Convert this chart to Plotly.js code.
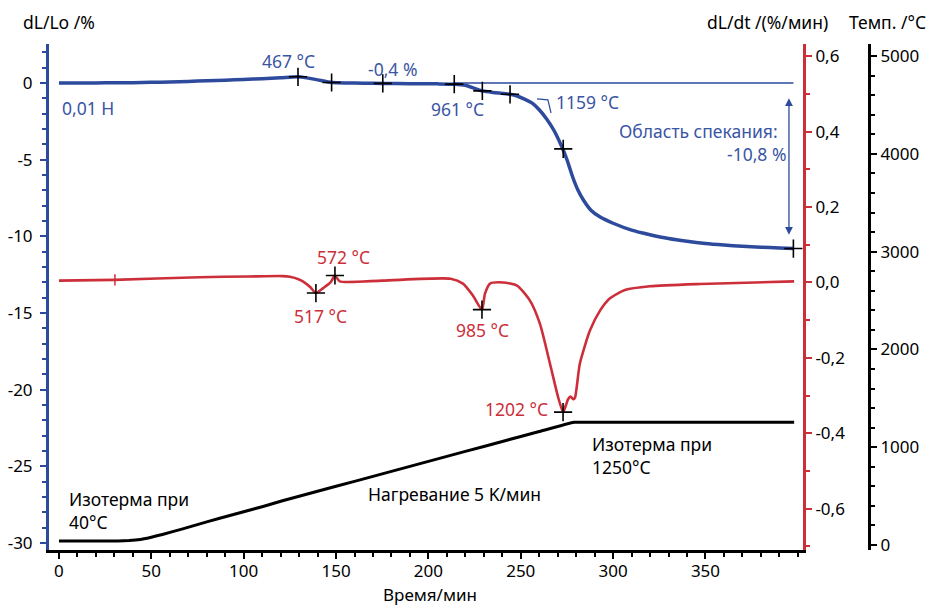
<!DOCTYPE html>
<html>
<head>
<meta charset="utf-8">
<script src="https://cdn.plot.ly/plotly-3.0.1.min.js"></script>
<style>html,body{margin:0;padding:0;background:#fff;}#chart{width:929px;height:607px;}</style>
</head>
<body>
<div id="chart"></div>
<script>
// ---- Data ----
// Time axis in minutes
const dlTime = [0,10,20,30,40,50,60,70,80,90,100,110,120,129.4,134,140,145,148,155,165,175,190,205,214,220,225,229.2,235,240,244.2,248,252,256,260,264,268,272,275,278,281,284,288,293,300,310,320,330,340,350,360,370,380,390,397.6];
const dlValue = [0,0,0,0.01,0.02,0.04,0.06,0.1,0.14,0.18,0.23,0.28,0.34,0.4,0.33,0.2,0.08,0.03,0.0,-0.02,-0.03,-0.05,-0.06,-0.08,-0.15,-0.35,-0.52,-0.62,-0.68,-0.74,-0.85,-1.05,-1.3,-1.75,-2.35,-3.1,-4.1,-5.0,-6.1,-7.0,-7.65,-8.3,-8.75,-9.15,-9.6,-9.9,-10.15,-10.33,-10.47,-10.57,-10.65,-10.71,-10.76,-10.8];
const dlMarkTime = [129.4,147.6,175.3,214,229.2,244.2,273,397.6];
const dlMarkValue = [0.4,0.03,-0.03,-0.08,-0.52,-0.74,-4.3,-10.8];
const baseTime = [214,397.6];
const baseValue = [0,0];
const tangentTime = [258.8,264.7,266.4];
const tangentValue = [-1.04,-1.1,-1.96];
const sinterArrowTime = [395.2,395.2];
const sinterArrowValue = [-0.9,-9.9];

const rateTime = [0,30,76,103,121,125,130,132,136,139.1,143,147,149.4,152,175,212,218.7,224,229,230.6,233.4,240.4,248,255,260.4,265.8,270.2,272.9,274.5,275.6,277,278.5,279.4,282,287.5,293,298.3,306.4,320,347,398];
const rateValue = [0.005,0.007,0.014,0.016,0.017,0.015,0.008,0.003,-0.012,-0.028,-0.015,0.0,0.0185,0.003,0.005,0.01,-0.003,-0.034,-0.072,-0.03,-0.003,0.0,-0.008,-0.048,-0.11,-0.215,-0.304,-0.344,-0.325,-0.31,-0.303,-0.31,-0.305,-0.215,-0.127,-0.074,-0.042,-0.02,-0.01,-0.004,0.003];
const rateMarkTime = [139.1,149.4,229,272.9];
const rateMarkValue = [-0.028,0.0185,-0.072,-0.344];
const rateTickTime = [30.3];
const rateTickValue = [0.007];

const tempTime = [0,25,32,38,44,50,56,67,80,94,110,121,141,160,180,200,220,240,260,278.8,290,320,350,398];
const tempValue = [40,40,41,45,56,80,108,165,236,310,392,452,555,651,753,855,957,1059,1160,1255,1255,1255,1255,1255];

// Tick labels
const xTickVals = [0,50,100,150,200,250,300,350];
const xTickText = ['0','50','100','150','200','250','300','350'];
const dlTickVals = [-30,-25,-20,-15,-10,-5,0];
const dlTickText = ['-30','-25','-20','-15','-10','-5','0'];
const rateTickVals = [-0.6,-0.4,-0.2,0,0.2,0.4,0.6];
const rateTickText = ['-0,6','-0,4','-0,2','0,0','0,2','0,4','0,6'];
const tempTickVals = [0,1000,2000,3000,4000,5000];
const tempTickText = ['0','1000','2000','3000','4000','5000'];

// ---- Styling ----
const BLUE = '#2d4a9c';
const BLUE_TXT = '#3a55a3';
const RED = '#cc2f3a';
const BLACK = '#000000';
const FONT = 'Noto Sans, Open Sans, sans-serif';
const FS = 17.5;
const TFS = 17;

const W = 929, H = 607, ML = 49, MR = 60, MT = 44, MB = 57;
const PW = W - ML - MR, PH = H - MT - MB;
function px(x){ return (x - ML) / PW; }
function py(y){ return (H - MB - y) / PH; }

const traces = [
  {x: baseTime, y: baseValue, yaxis:'y', mode:'lines', line:{color:BLUE, width:1.5}, hoverinfo:'skip'},
  {x: tangentTime, y: tangentValue, yaxis:'y', mode:'lines', line:{color:BLUE, width:1.2}, hoverinfo:'skip'},
  {x: tempTime, y: tempValue, yaxis:'y3', mode:'lines', line:{color:BLACK, width:3, shape:'spline', smoothing:0.3}},
  {x: rateTime, y: rateValue, yaxis:'y2', mode:'lines', line:{color:RED, width:2.6, shape:'spline', smoothing:0.6}},
  {x: rateTickTime, y: rateTickValue, yaxis:'y2', mode:'markers', marker:{symbol:'line-ns', size:8, line:{color:RED, width:1.5}}},
  {x: dlTime, y: dlValue, yaxis:'y', mode:'lines', line:{color:BLUE, width:3.5, shape:'spline', smoothing:0.6}},
  {x: dlMarkTime, y: dlMarkValue, yaxis:'y', mode:'markers', marker:{symbol:'cross-thin', size:13, line:{color:BLACK, width:1.6}}},
  {x: rateMarkTime, y: rateMarkValue, yaxis:'y2', mode:'markers', marker:{symbol:'cross-thin', size:13, line:{color:BLACK, width:1.6}}}
];

function txt(text, x, y, color, xanchor, align, yanchor, size){
  return {text:text, xref:'paper', yref:'paper', x:px(x), y:py(y), xanchor:xanchor||'center', yanchor:yanchor||'middle',
    align:align||'center', showarrow:false, borderpad:0, font:{family:FONT, size:size||FS, color:color}};
}

const annotations = [
  txt('dL/Lo /%', 22, 22, BLACK, 'left'),
  txt('dL/dt /(%/мин)', 706, 22, BLACK, 'left'),
  txt('Темп. /°C', 848, 22, BLACK, 'left'),
  txt('Время/мин', 430, 607, BLACK, 'center', 'center', 'bottom', 17),
  txt('467 °C', 288, 61, BLUE_TXT),
  txt('-0,4 %', 392, 69, BLUE_TXT),
  txt('0,01 H', 61, 108, BLUE_TXT, 'left'),
  txt('961 °C', 457, 109, BLUE_TXT),
  txt('1159 °C', 555, 102, BLUE_TXT, 'left'),
  txt('Область спекания:', 779, 131, BLUE_TXT, 'right'),
  txt('-10,8 %', 787, 154, BLUE_TXT, 'right'),
  txt('572 °C', 343, 257, RED),
  txt('517 °C', 320, 316, RED),
  txt('985 °C', 482, 330, RED),
  txt('1202 °C', 549, 409, RED, 'right'),
  txt('Изотерма при<br>40°C', 68, 510, BLACK, 'left', 'left'),
  txt('Нагревание 5 K/мин', 454, 494, BLACK),
  txt('Изотерма при<br>1250°C', 591, 455, BLACK, 'left', 'left'),
  {x: sinterArrowTime[1], y: sinterArrowValue[1], ax: sinterArrowTime[0], ay: sinterArrowValue[0],
   xref:'x', yref:'y', axref:'x', ayref:'y', text:'', showarrow:true, arrowhead:2, arrowside:'end+start',
   arrowsize:1.2, arrowwidth:1.3, arrowcolor:BLUE}
];

const tickFont = {family:FONT, size:TFS, color:BLACK};

const layout = {
  width:W, height:H,
  margin:{l:ML, r:MR, t:MT, b:MB, pad:0},
  paper_bgcolor:'#ffffff', plot_bgcolor:'rgba(0,0,0,0)',
  showlegend:false,
  font:{family:FONT, size:FS, color:BLACK},
  xaxis:{domain:[0, (803-ML)/PW], range:[-5.4, 402.8], showgrid:false, zeroline:false,
    showline:true, linecolor:BLACK, linewidth:3, ticks:'outside', ticklen:6, tickwidth:2, tickcolor:BLACK,
    tickvals:xTickVals, ticktext:xTickText, tickfont:tickFont, ticklabelstandoff:-2,
    minor:{dtick:10, tick0:0, ticks:'outside', ticklen:4, tickwidth:2, tickcolor:BLACK, showgrid:false}},
  yaxis:{range:[-30.46, 2.54], showgrid:false, zeroline:false,
    showline:true, linecolor:BLUE, linewidth:3, ticks:'outside', ticklen:6, tickwidth:2, tickcolor:BLUE,
    tickvals:dlTickVals, ticktext:dlTickText, tickfont:tickFont, ticklabelstandoff:4,
    minor:{dtick:1, tick0:0, ticks:'outside', ticklen:4, tickwidth:2, tickcolor:BLUE, showgrid:false}},
  yaxis2:{overlaying:'y', side:'right', anchor:'x', range:[-0.71, 0.633], showgrid:false, zeroline:false,
    showline:true, linecolor:RED, linewidth:3, ticks:'outside', ticklen:6, tickwidth:2, tickcolor:RED,
    tickvals:rateTickVals, ticktext:rateTickText, tickfont:tickFont,
    minor:{dtick:0.1, tick0:0, ticks:'outside', ticklen:4, tickwidth:2, tickcolor:RED, showgrid:false}},
  yaxis3:{overlaying:'y', side:'right', anchor:'free', position:1, range:[-51, 5123], showgrid:false, zeroline:false,
    showline:true, linecolor:BLACK, linewidth:3, ticks:'outside', ticklen:6, tickwidth:2, tickcolor:BLACK,
    tickvals:tempTickVals, ticktext:tempTickText, tickfont:tickFont,
    minor:{dtick:200, tick0:0, ticks:'outside', ticklen:4, tickwidth:2, tickcolor:BLACK, showgrid:false}},
  annotations:annotations
};

Plotly.newPlot('chart', traces, layout, {staticPlot:true, displayModeBar:false});
</script>
</body>
</html>
